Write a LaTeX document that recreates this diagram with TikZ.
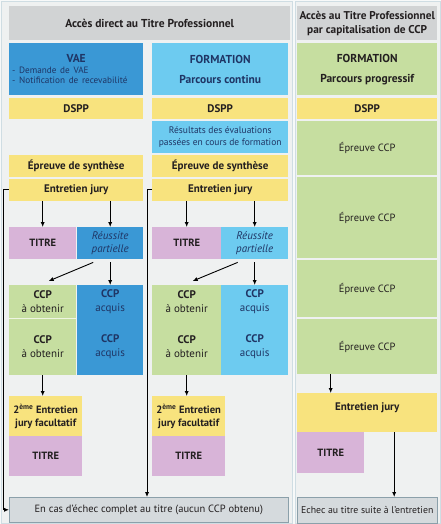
\documentclass[tikz,border=0pt]{standalone}
\usepackage{fontspec}
\setmainfont{PT Sans}
\usepackage{xcolor}
\usetikzlibrary{positioning,arrows.meta,calc}

\definecolor{encre}{HTML}{231F20}
\definecolor{marine}{HTML}{1F3565}
\definecolor{jaune}{HTML}{F8E37E}
\definecolor{mauve}{HTML}{D8B4D8}
\definecolor{bleufonce}{HTML}{3A98D5}
\definecolor{bleuclair}{HTML}{6DCBF0}
\definecolor{vert}{HTML}{C6DEA0}
\definecolor{gristete}{HTML}{D1D3D4}
\definecolor{grisbas}{HTML}{D5DADD}
\definecolor{bordbas}{HTML}{8BA0AA}
\definecolor{fond}{HTML}{F7F9F9}
\definecolor{panneau}{HTML}{EFF1F1}
\definecolor{bordpan}{HTML}{CFDDE3}

\begin{document}
\begin{tikzpicture}[
  x=1pt, y=-1pt,
  every node/.style={inner sep=0pt, align=center, text=encre},
  cell/.style={rectangle, anchor=north west, font=\fontsize{11}{13}\selectfont},
  tete/.style={cell, fill=gristete, font=\bfseries\fontsize{11.5}{14}\selectfont},
  jbox/.style={cell, fill=jaune, font=\bfseries\fontsize{11}{13}\selectfont},
  titre/.style={cell, fill=mauve, font=\bfseries\fontsize{10.5}{12}\selectfont},
  bfbox/.style={cell, fill=bleufonce, text=marine},
  bcbox/.style={cell, fill=bleuclair, text=marine},
  vbox/.style={cell, fill=vert},
  ccpbox/.style={font=\fontsize{11}{13.5}\selectfont},
  reussite/.style={font=\itshape\fontsize{11}{13}\selectfont},
  epreuve/.style={font=\fontsize{10.5}{12}\selectfont},
  echec/.style={cell, fill=grisbas, draw=bordbas, line width=0.6pt, font=\fontsize{10.5}{12}\selectfont},
  fleche/.style={-{Latex[length=5pt,width=4.2pt]}, line width=0.9pt, draw=black},
]
  % fond et panneaux
  \fill[fond] (0,0) rectangle (441,524);
  \filldraw[fill=panneau, draw=bordpan, line width=0.6pt] (1,1) rectangle (292,523);
  \filldraw[fill=panneau, draw=bordpan, line width=0.6pt] (295,1) rectangle (440,523);
  \useasboundingbox (0,0) rectangle (441,524);

  % en-tetes
  \node[tete, minimum width=281pt, minimum height=34pt] (teteA) at (9,6) {Accès direct au Titre Professionnel};
  \node[tete, minimum width=140pt, minimum height=34pt, font=\bfseries\fontsize{11.3}{14}\selectfont] (teteB) at (297,6)
    {Accès au Titre Professionnel\\par capitalisation de CCP};

  % colonne 1 : VAE
  \node[bfbox, minimum width=134pt, minimum height=52pt, text width=128pt, align=left] (vae) at (9,43)
    {{\centering\bfseries\fontsize{11.5}{12}\selectfont VAE\par}%
     {\raggedright\fontsize{9.2}{10.5}\selectfont - Demande de VAE\\- Notification de recevabilité\par}};
  \node[jbox, minimum width=134pt, minimum height=21pt] (dsppA) at (9,98) {DSPP};
  \node[jbox, minimum width=134pt, minimum height=22pt] (synA) at (9,155) {Épreuve de synthèse};
  \node[jbox, minimum width=134pt, minimum height=22pt, below=1pt of synA] (entA) {Entretien jury};
  \node[titre, minimum width=67pt, minimum height=32pt] (titA) at (9,227) {TITRE};
  \node[bfbox, reussite, minimum width=66pt, minimum height=32pt] (reuA) at (77,227) {Réussite\\partielle};
  \node[vbox, ccpbox, minimum width=67pt, minimum height=33pt] (ccpA1) at (9,285) {\textbf{CCP}\\à obtenir};
  \node[vbox, ccpbox, minimum width=67pt, minimum height=57pt] (ccpA2) at (9,318) {\textbf{CCP}\\à obtenir};
  \node[bfbox, ccpbox, minimum width=66pt, minimum height=33pt] (acqA1) at (77,285) {\textbf{CCP}\\acquis};
  \node[bfbox, ccpbox, minimum width=66pt, minimum height=57pt] (acqA2) at (77,318) {\textbf{CCP}\\acquis};
  \draw[white!70!vert, line width=0.5pt] (ccpA2.north west) -- (ccpA2.north east);
  \node[jbox, minimum width=73pt, minimum height=40pt, font=\bfseries\fontsize{10.6}{12.5}\selectfont] (entA2) at (9,396)
    {2\textsuperscript{ème} Entretien\\jury facultatif};
  \node[titre, minimum width=73pt, minimum height=40pt] (titA2) at (9,436) {TITRE};

  % colonne 2 : formation continue
  \node[bcbox, minimum width=136pt, minimum height=52pt, font=\bfseries\fontsize{11.5}{20}\selectfont] (formB) at (152,43)
    {FORMATION\\Parcours continu};
  \node[jbox, minimum width=136pt, minimum height=21pt] (dsppB) at (152,98) {DSPP};
  \node[bcbox, minimum width=136pt, minimum height=32pt, font=\fontsize{9.5}{11.5}\selectfont] (resB) at (152,121)
    {Résultats des évaluations\\passées en cours de formation};
  \node[jbox, minimum width=136pt, minimum height=22pt] (synB) at (152,155) {Épreuve de synthèse};
  \node[jbox, minimum width=136pt, minimum height=22pt, below=1pt of synB] (entB) {Entretien jury};
  \node[titre, minimum width=69pt, minimum height=32pt] (titB) at (152,227) {TITRE};
  \node[bcbox, reussite, minimum width=67pt, minimum height=32pt] (reuB) at (221,227) {Réussite\\partielle};
  \node[vbox, ccpbox, minimum width=69pt, minimum height=33pt] (ccpB1) at (152,285) {\textbf{CCP}\\à obtenir};
  \node[vbox, ccpbox, minimum width=69pt, minimum height=57pt] (ccpB2) at (152,318) {\textbf{CCP}\\à obtenir};
  \node[bcbox, ccpbox, minimum width=67pt, minimum height=33pt] (acqB1) at (221,285) {\textbf{CCP}\\acquis};
  \node[bcbox, ccpbox, minimum width=67pt, minimum height=57pt] (acqB2) at (221,318) {\textbf{CCP}\\acquis};
  \node[jbox, minimum width=73pt, minimum height=40pt, font=\bfseries\fontsize{10.6}{12.5}\selectfont] (entB2) at (152,396)
    {2\textsuperscript{ème} Entretien\\jury facultatif};
  \node[titre, minimum width=73pt, minimum height=40pt] (titB2) at (152,436) {TITRE};

  % colonne 3 : formation progressive
  \node[vbox, minimum width=140pt, minimum height=52pt, font=\bfseries\fontsize{11.5}{20}\selectfont] (formC) at (297,43)
    {FORMATION\\Parcours progressif};
  \node[jbox, minimum width=140pt, minimum height=21pt] (dsppC) at (297,98) {DSPP};
  \node[vbox, epreuve, minimum width=140pt, minimum height=54pt] (ccpC1) at (297,121) {Épreuve CCP};
  \node[vbox, epreuve, minimum width=140pt, minimum height=81pt] (ccpC2) at (297,177) {Épreuve CCP};
  \node[vbox, epreuve, minimum width=140pt, minimum height=57pt] (ccpC3) at (297,260) {Épreuve CCP};
  \node[vbox, epreuve, minimum width=140pt, minimum height=55pt] (ccpC4) at (297,319) {Épreuve CCP};
  \node[jbox, minimum width=140pt, minimum height=39pt, text depth=12pt] (entC) at (297,393) {Entretien jury};
  \node[titre, minimum width=67pt, minimum height=41pt] (titC) at (297,432) {TITRE};

  % echecs
  \node[echec, minimum width=279pt, minimum height=25pt] (echecAB) at (9,497) {En cas d’échec complet au titre (aucun CCP obtenu)};
  \node[echec, minimum width=140pt, minimum height=26pt, font=\fontsize{9.8}{12}\selectfont] (echecC) at (297,497)
    {Echec au titre suite à l’entretien};

  % fleches colonne 1
  \draw[fleche] (entA.south -| titA.north) -- (titA.north);
  \draw[fleche] (entA.south -| reuA.north) -- (reuA.north);
  \draw[fleche] ([xshift=-17pt,yshift=-3pt]reuA.south) -- ([xshift=6pt,yshift=4pt]ccpA1.north);
  \draw[fleche] ([yshift=-3pt]reuA.south) -- (acqA1.north);
  \draw[fleche] (ccpA2.south) -- (ccpA2.south |- entA2.north);
  \draw[fleche] (entA.west) -- ++(-6,0) |- (echecAB.west);

  % fleches colonne 2
  \draw[fleche] (entB.south -| titB.north) -- (titB.north);
  \draw[fleche] (entB.south -| reuB.north) -- (reuB.north);
  \draw[fleche] ([xshift=-17pt,yshift=-3pt]reuB.south) -- ([xshift=6pt,yshift=4pt]ccpB1.north);
  \draw[fleche] ([yshift=-3pt]reuB.south) -- (acqB1.north);
  \draw[fleche] (ccpB2.south) -- (ccpB2.south |- entB2.north);
  \draw[fleche] (entB.west) -- ++(-5,0) coordinate (coudeB) -- (coudeB |- echecAB.north);

  % fleches colonne 3
  \draw[fleche] (ccpC4.south -| titC.north) -- (entC.north -| titC.north);
  \draw[fleche] ([xshift=27pt]entC.south) -- ([xshift=27pt]entC.south |- echecC.north);
\end{tikzpicture}
\end{document}
